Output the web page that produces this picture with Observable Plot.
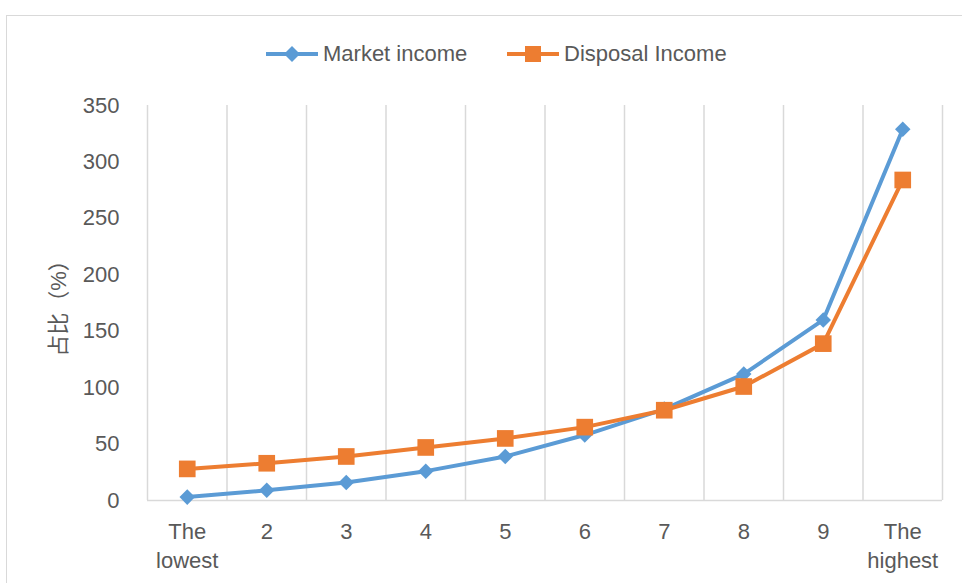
<!DOCTYPE html>
<html><head><meta charset="utf-8">
<script src="https://cdn.jsdelivr.net/npm/d3@7"></script>
<script src="https://cdn.jsdelivr.net/npm/@observablehq/plot@0.6"></script>
<style>
body{margin:0;background:#fff;font-family:"Liberation Sans","Noto Sans CJK SC",sans-serif;}
#wrap{position:relative;width:962px;height:583px;overflow:hidden;background:#fff;}
#frame{position:absolute;left:6px;top:15px;width:980px;height:620px;border:1.5px solid #d9d9d9;box-sizing:border-box;}
#legend{position:absolute;top:0;left:0;width:962px;height:90px;color:#595959;font-size:22px;}
.item{position:absolute;top:41px;height:26px;display:flex;align-items:center;white-space:nowrap;}
.item svg{margin-right:5px;}
#chart{position:absolute;top:90px;left:0;}
</style></head>
<body>
<div id="wrap">
  <div id="frame"></div>
  <div id="legend"></div>
  <div id="chart"></div>
</div>
<script>
const categories = ["The\nlowest", "2", "3", "4", "5", "6", "7", "8", "9", "The\nhighest"];
const marketIncome = [3, 9, 16, 26, 39, 58, 81, 112, 160, 329];
const disposalIncome = [28, 33, 39, 47, 55, 65, 80, 101, 139, 284];
const yTicks = [0, 50, 100, 150, 200, 250, 300, 350];
const seriesNames = ["Market income", "Disposal Income"];
const seriesColors = ["#5B9BD5", "#ED7D31"];
const seriesSymbols = ["diamond2", "square"];

const rows = categories.map((c, i) => ({i, market: marketIncome[i], disposal: disposalIncome[i]}));

// Legend
const legend = document.getElementById("legend");
const legendLeft = [266, 507];
seriesNames.forEach((name, k) => {
  const div = document.createElement("div");
  div.className = "item";
  div.style.left = legendLeft[k] + "px";
  const marker = k === 0
    ? `<path d="M26 4 L34 12 L26 20 L18 12 Z" fill="${seriesColors[k]}"/>`
    : `<rect x="18" y="4" width="16" height="16" fill="${seriesColors[k]}"/>`;
  div.innerHTML = `<svg width="52" height="24"><line x1="0" x2="52" y1="12" y2="12" stroke="${seriesColors[k]}" stroke-width="4"/>${marker}</svg><span>${name}</span>`;
  legend.appendChild(div);
});

const chart = Plot.plot({
  width: 962,
  height: 493,
  marginTop: 15,
  marginBottom: 83,
  marginLeft: 147,
  marginRight: 20,
  style: {fontFamily: '"Liberation Sans","Noto Sans CJK SC",sans-serif', fontSize: "22px", color: "#595959", background: "transparent", overflow: "visible"},
  x: {type: "linear", domain: [-0.5, 9.5]},
  y: {domain: [0, 350]},
  marks: [
    Plot.gridX(d3.range(-0.5, 10, 1), {stroke: "#d9d9d9", strokeOpacity: 1, strokeWidth: 1.5}),
    Plot.ruleY([0], {stroke: "#d9d9d9", strokeWidth: 1.5}),
    Plot.axisY(yTicks, {tickSize: 0, tickPadding: 28, label: "占比（%）", labelAnchor: "center", labelArrow: "none", labelOffset: 97, fill: "#595959"}),
    Plot.axisX(d3.range(10), {tickSize: 0, tickPadding: 18, tickFormat: i => categories[i], lineHeight: 1.32, label: null, fill: "#595959"}),
    Plot.line(rows, {x: "i", y: "market", stroke: seriesColors[0], strokeWidth: 4}),
    Plot.line(rows, {x: "i", y: "disposal", stroke: seriesColors[1], strokeWidth: 4}),
    Plot.dot(rows, {x: "i", y: "market", symbol: () => seriesSymbols[0], r: 7, fill: seriesColors[0], stroke: "none"}),
    Plot.dot(rows, {x: "i", y: "disposal", symbol: () => seriesSymbols[1], r: 9.4, fill: seriesColors[1], stroke: "none"})
  ]
});
document.getElementById("chart").appendChild(chart);
</script>
</body></html>
